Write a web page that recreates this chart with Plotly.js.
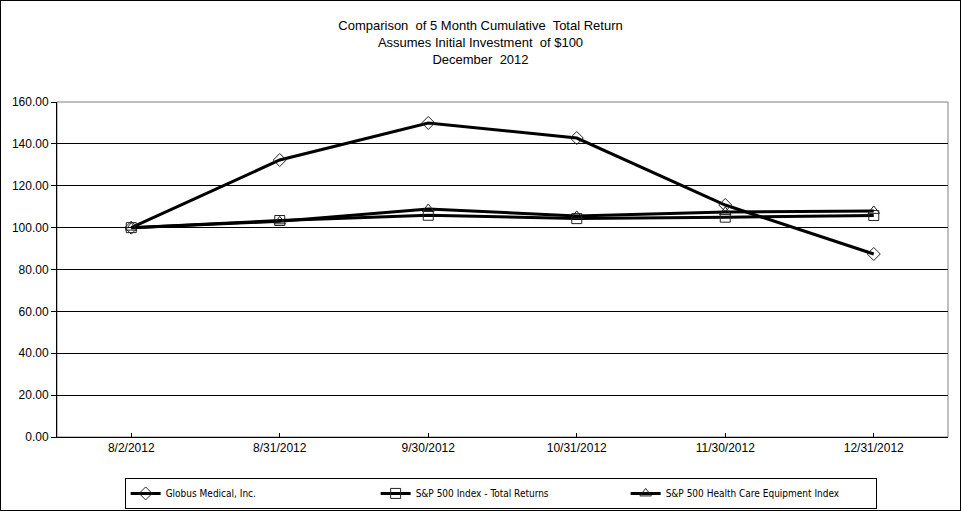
<!DOCTYPE html>
<html>
<head>
<meta charset="utf-8">
<script src="https://cdn.plot.ly/plotly-3.0.1.min.js"></script>
<style>
html,body{margin:0;padding:0;background:#fff;}
#chart{width:959px;height:509px;border:1px solid #000;}
</style>
</head>
<body>
<div id="chart"></div>
<script>
const dates = ["8/2/2012","8/31/2012","9/30/2012","10/31/2012","11/30/2012","12/31/2012"];
const globus = [100.00, 132.3, 150.0, 142.8, 110.8, 87.4];
const sp500 = [100.00, 103.4, 105.9, 104.3, 105.0, 105.8];
const hcEquip = [100.00, 103.0, 108.9, 105.6, 107.5, 108.0];
const seriesNames = ["Globus Medical, Inc.","S&P 500 Index - Total Returns","S&P 500 Health Care Equipment Index"];
const yTicks = [0,20,40,60,80,100,120,140,160];

function tr(y, name, sym){
  return {x: dates, y: y, name: name, type:'scatter', mode:'lines+markers',
    line:{color:'#000', width:3},
    marker:{symbol:sym, size:10, color:'#222', line:{color:'#222', width:1}}};
}
const data = [
  tr(globus, seriesNames[0], 'diamond-open'),
  tr(sp500, seriesNames[1], 'square-open'),
  tr(hcEquip, seriesNames[2], 'triangle-up-open')
];
const narrow = 'DejaVu Sans Condensed, Liberation Sans Narrow, Arial Narrow, sans-serif';
const layout = {
  width:959, height:509,
  margin:{l:56, r:12, t:101, b:73},
  paper_bgcolor:'#fff', plot_bgcolor:'#fff',
  font:{family:'Arial, Liberation Sans, sans-serif', size:12, color:'#000'},
  showlegend:true,
  title:{text:'Comparison  of 5 Month Cumulative  Total Return<br>Assumes Initial Investment  of $100<br>December  2012',
    font:{family:'Liberation Sans, Arial, sans-serif', size:13, color:'#000'},
    x:0.5, xanchor:'center', y:0.943, yanchor:'top'},
  xaxis:{type:'category', range:[-0.5,5.5], showgrid:false, showline:true, linecolor:'#000', linewidth:1,
    ticks:'inside', ticklen:4, tickcolor:'#000', zeroline:false, fixedrange:true,
    tickfont:{size:12}},
  yaxis:{range:[0,160], tickvals:yTicks, tickformat:'.2f', showgrid:true, gridcolor:'#000', gridwidth:1,
    showline:true, linecolor:'#000', linewidth:1, ticks:'outside', ticklen:5, tickcolor:'#000',
    zeroline:false, fixedrange:true, tickfont:{size:12}},
  shapes:[{type:'rect', xref:'paper', yref:'paper', x0:0, x1:1, y0:0, y1:1, line:{color:'#808080', width:1}, layer:'below'}],
  legend:{orientation:'h', xref:'container', yref:'container', x:0.521, xanchor:'center', y:0.063, yanchor:'top',
    bordercolor:'#000', borderwidth:1, bgcolor:'#fff',
    entrywidth:205, itemwidth:30,
    font:{family:narrow, size:10, color:'#000'}}
};
Plotly.newPlot('chart', data, layout, {displayModeBar:false, staticPlot:true});
</script>
</body>
</html>
